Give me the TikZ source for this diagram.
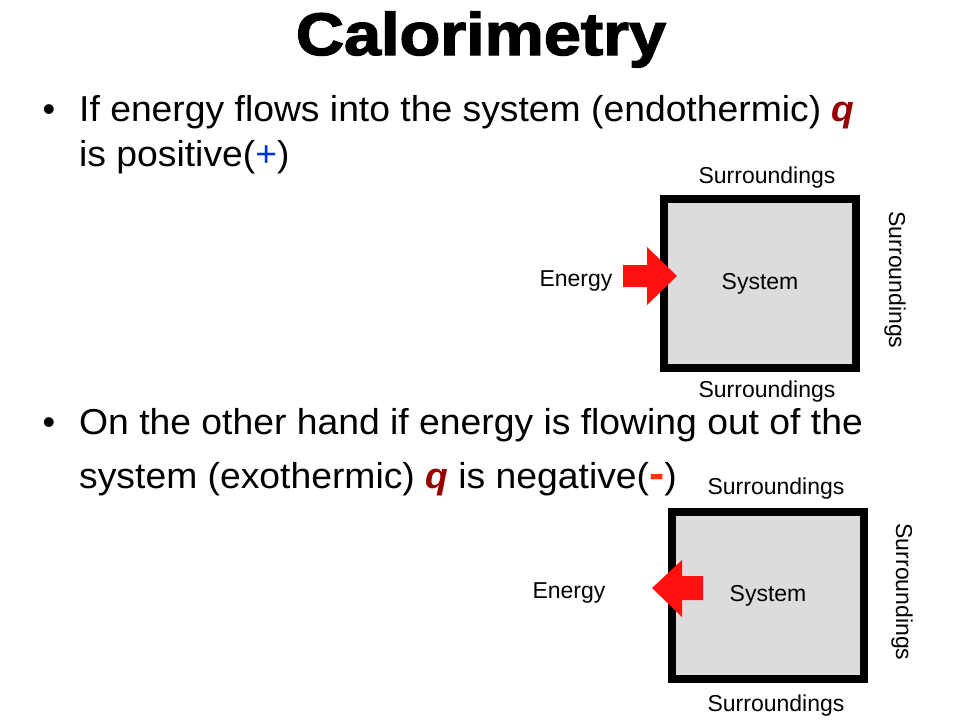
\documentclass[tikz,border=0pt]{standalone}
\usepackage{fontspec}
\setmainfont{Liberation Sans}
\definecolor{qred}{HTML}{990000}
\definecolor{plusblue}{HTML}{0033CC}
\definecolor{minusred}{HTML}{FF3300}
\definecolor{sysgray}{HTML}{DCDCDC}
\definecolor{arrowred}{HTML}{FF1010}
\tikzset{
  bodytext/.style={anchor=base west, inner sep=0pt, font=\fontsize{36}{36}\selectfont},
  bulletdot/.style={anchor=base, inner sep=0pt, font=\fontsize{36}{36}\selectfont},
  small/.style={inner sep=0pt, font=\fontsize{23}{23}\selectfont},
  sysbox/.style={draw=black, line width=8pt, fill=sysgray, minimum width=192pt, inner sep=0pt, font=\fontsize{23}{23}\selectfont},
  energyarrow/.style={fill=arrowred, draw=none}
}
\newcommand{\qsym}{\textcolor{qred}{\bfseries\itshape q}}
\newcommand{\wide}[1]{\scalebox{1.036}[1]{#1}}
\begin{document}
\begin{tikzpicture}[x=1pt,y=-1pt]
\useasboundingbox (0,0) rectangle (960,720);
% title
\node[anchor=base, inner sep=0pt, font=\fontsize{60}{60}\selectfont\bfseries] (title) at (481,55)
  {\scalebox{1.11}[1]{\addfontfeature{FakeBold=2.2}Calorimetry}};
% bullet 1
\node[bulletdot] (dot1) at (49,121) {\textbullet};
\node[bodytext] (b1a) at (79,121) {\wide{If energy flows into the system (endothermic) \qsym}};
\node[bodytext] (b1b) at (79,166) {\wide{is positive(\textcolor{plusblue}{+})}};
% bullet 2
\node[bulletdot] (dot2) at (49,434) {\textbullet};
\node[bodytext] (b2a) at (79,434) {\wide{On the other hand if energy is flowing out of the}};
\node[bodytext] (b2b) at (79,488) {\wide{system (exothermic) \qsym{} is negative(\textcolor{minusred}{\bfseries\fontsize{44}{44}\selectfont -})}};
% diagram 1
\node[sysbox, minimum height=169pt] (sys1) at (760,283.5) {System};
\node[small] (s1t) at (767,178) {Surroundings};
\node[small] (s1b) at (767,392) {Surroundings};
\node[small, rotate=-90] (s1r) at (895,280) {Surroundings};
\node[small] (e1) at (576,281) {Energy};
\fill[energyarrow] (623,265) -- (647,265) -- (647,247) -- (677,276) -- (647,305) -- (647,287) -- (623,287) -- cycle;
% diagram 2
\node[sysbox, minimum height=167pt] (sys2) at (768,595.5) {System};
\node[small] (s2t) at (776,489) {Surroundings};
\node[small] (s2b) at (776,706) {Surroundings};
\node[small, rotate=-90] (s2r) at (902,592) {Surroundings};
\node[small] (e2) at (569,593) {Energy};
\fill[energyarrow] (703,576) -- (682,576) -- (682,560) -- (652,588) -- (682,617) -- (682,600) -- (703,600) -- cycle;
\end{tikzpicture}
\end{document}
